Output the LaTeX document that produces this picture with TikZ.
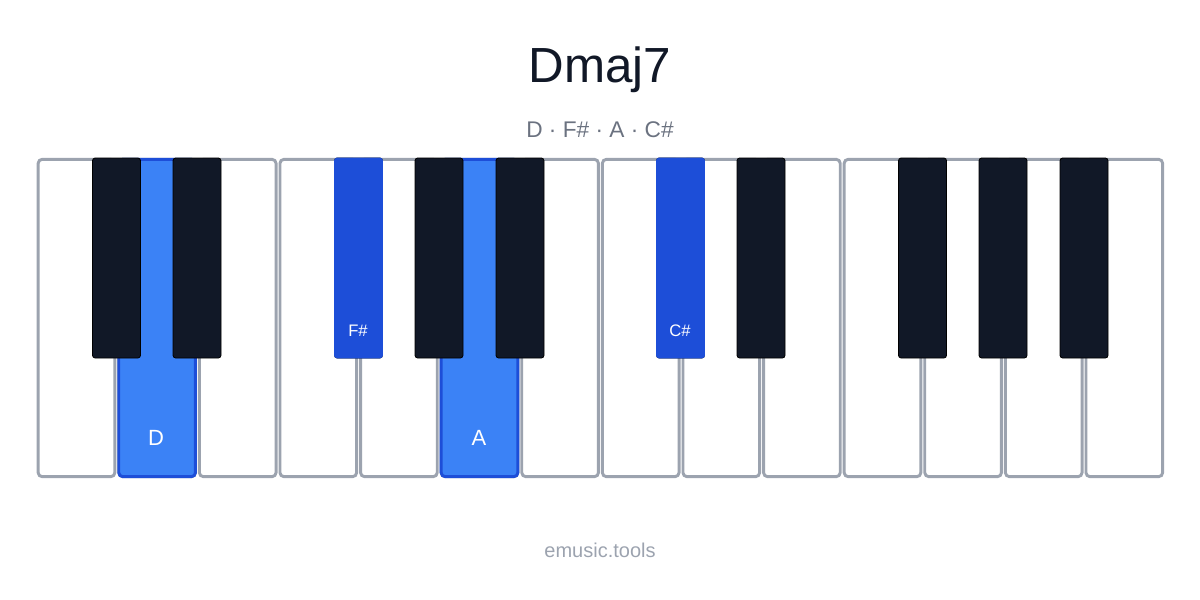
\documentclass[tikz,border=0pt]{standalone}
\usepackage{fontspec}
\setmainfont{Liberation Sans}
\usetikzlibrary{positioning}
\definecolor{keyline}{HTML}{9CA3AF}
\definecolor{keyblack}{HTML}{111827}
\definecolor{hilite}{HTML}{3B82F6}
\definecolor{hiliteDark}{HTML}{1D4ED8}
\definecolor{subgray}{HTML}{6B7280}
\tikzset{
  whitekey/.style={draw=keyline, fill=white, line width=2.2pt, rounded corners=3pt,
    minimum width=57.5pt, minimum height=238pt, inner sep=0pt},
  whiteon/.style={whitekey, draw=hiliteDark, fill=hilite},
  blackkey/.style={draw=black, fill=keyblack, line width=0.6pt, rounded corners=2pt,
    minimum width=36pt, minimum height=150pt, inner sep=0pt},
  blackon/.style={blackkey, draw=hiliteDark, fill=hiliteDark},
  keylabel/.style={text=white, inner sep=0pt}
}
\begin{document}
\begin{tikzpicture}[x=0.75pt,y=-0.75pt]
    \useasboundingbox (0,0) rectangle (1200,600);
    %% title
    \node (title) at (600,70) {\fontsize{37}{40}\selectfont\color{keyblack}Dmaj7};
    \node (notes) at (600,130) {\fontsize{17}{20}\selectfont\color{subgray}D · F\# · A · C\#};
    %% white keys
    \foreach \i in {0,...,13} {
        \node[whitekey] (w\i) at (76.5+80.6*\i,318) {};
    }
    \node[whiteon] (wD) at (w1) {};
    \node[whiteon] (wA) at (w5) {};
    %% black keys
    \foreach \o in {0,1} {
        \foreach \n/\x in {cs/116.5,ds/197,fs/358.5,gs/439,as/520} {
            \node[blackkey] (b\n\o) at (\x+564*\o,258) {};
        }
    }
    \node[blackon] (bF) at (bfs0) {};
    \node[blackon] (bC) at (bcs1) {};
    %% labels
    \node[keylabel, font=\fontsize{16.5}{18}\selectfont] at (156,438) {D};
    \node[keylabel, font=\fontsize{16.5}{18}\selectfont] at (479,438) {A};
    \node[keylabel, font=\fontsize{12.5}{14}\selectfont] at (358,331) {F\#};
    \node[keylabel, font=\fontsize{12.5}{14}\selectfont] at (680,331) {C\#};
    %% footer
    \node (footer) at (600,550) {\fontsize{15}{17}\selectfont\color{keyline}emusic.tools};
\end{tikzpicture}
\end{document}
